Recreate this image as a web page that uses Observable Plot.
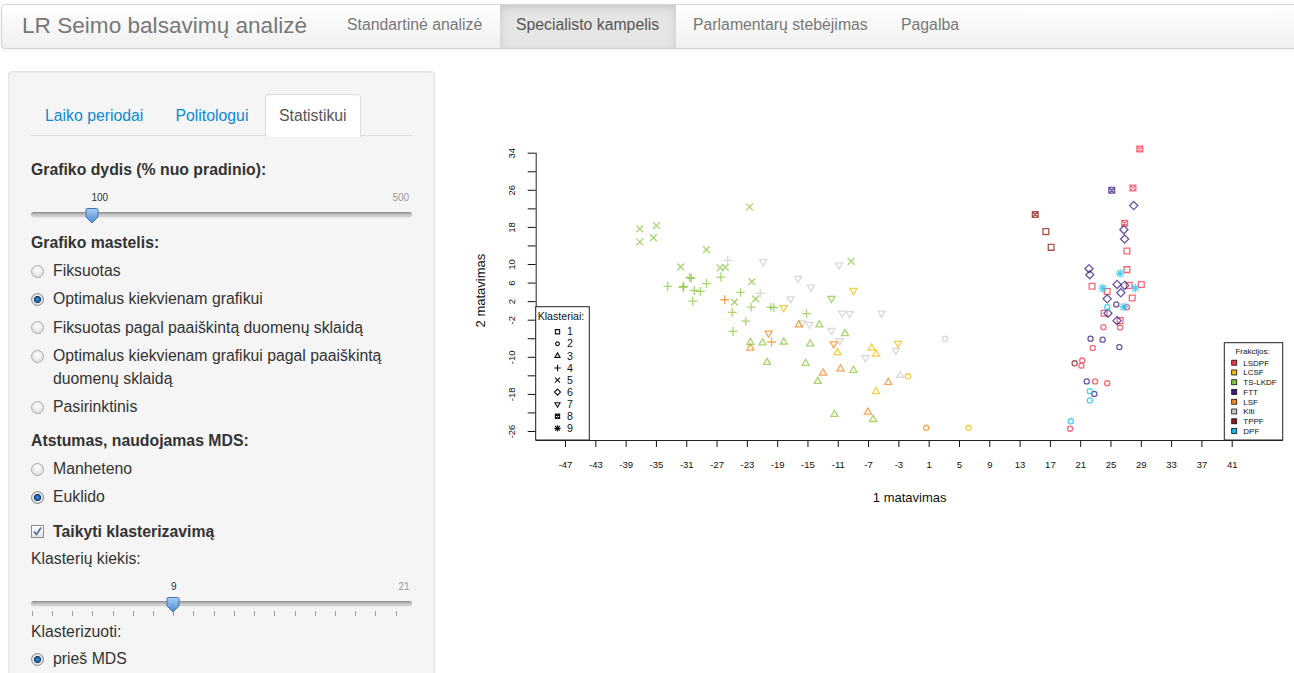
<!DOCTYPE html>
<html><head><meta charset="utf-8">
<script src="https://cdn.jsdelivr.net/npm/d3@7"></script>
<script src="https://cdn.jsdelivr.net/npm/@observablehq/plot@0.6"></script>
<style>
body{margin:0;width:1294px;height:673px;overflow:hidden;background:#fff;font-family:"Liberation Sans",Arial,sans-serif;color:#333;position:relative}
.a{position:absolute;white-space:nowrap}
.t{position:absolute;white-space:nowrap;font-size:15.8px;line-height:20px;color:#333}
.b{font-weight:bold}
.navbar{position:absolute;left:1px;top:4px;width:1300px;height:43px;background:linear-gradient(#ffffff,#f0f0f0);border:1px solid #d4d4d4;border-radius:4px;box-shadow:0 1px 4px rgba(0,0,0,.07)}
.nav{position:absolute;top:15px;font-size:15.8px;line-height:20px;color:#777;white-space:nowrap}
.well{position:absolute;left:8px;top:71px;width:425px;height:640px;background:#f5f5f5;border:1px solid #e3e3e3;border-radius:4px;box-shadow:inset 0 1px 1px rgba(0,0,0,.05)}
.rd{position:absolute;left:31px;width:11px;height:11px;border:1px solid #a8a8a8;border-radius:50%;background:radial-gradient(circle at 50% 35%,#ffffff,#d6d6d6)}
.rd.on{border-color:#8a8a8a;background:radial-gradient(circle,#3b95de 0,#1b62ad 2.3px,#0f3560 3.2px,#ececec 3.9px,#d0d0d0 6px)}
.trk{position:absolute;left:31px;width:381px;height:5px;border-radius:3px;background:linear-gradient(#8a8a8a,#c6c6c6 55%,#d6d6d6);box-shadow:0 1px 0 #e8e8e8}
.tick{position:absolute;width:1px;height:5px;background:#a0a0a0}
#chart{position:absolute;left:440px;top:120px}
</style></head>
<body>
<div class="navbar"></div>
<div class="a" style="left:500px;top:5px;width:176px;height:43px;background:#e5e5e5;box-shadow:inset 0 3px 8px rgba(0,0,0,.125)"></div>
<div class="nav" style="left:22px;top:13px;font-size:22.6px;line-height:26px;color:#777">LR Seimo balsavimų analizė</div>
<div class="nav" style="left:347px">Standartinė analizė</div>
<div class="nav" style="left:516px;color:#555">Specialisto kampelis</div>
<div class="nav" style="left:693px">Parlamentarų stebėjimas</div>
<div class="nav" style="left:901px">Pagalba</div>

<div class="well"></div>
<div class="a" style="left:31px;top:135px;width:381px;height:1px;background:#dddddd"></div>
<div class="a" style="left:265px;top:94px;width:94px;height:42px;background:#fff;border:1px solid #ddd;border-bottom:none;border-radius:4px 4px 0 0"></div>
<div class="t" style="left:45px;top:106px;color:#0a8ad2">Laiko periodai</div>
<div class="t" style="left:175.5px;top:106px;color:#0a8ad2">Politologui</div>
<div class="t" style="left:279px;top:106px;color:#555">Statistikui</div>

<div class="t b" style="left:31px;top:160px">Grafiko dydis (% nuo pradinio):</div>
<div class="a" style="left:91.5px;top:192px;font-size:10px;color:#333">100</div>
<div class="a" style="left:392.5px;top:192px;font-size:10px;color:#999">500</div>
<div class="trk" style="top:211.5px"></div>
<svg class="a" style="left:84.5px;top:208px" width="14" height="16"><defs><linearGradient id="hg" x1="0" y1="0" x2="0" y2="1"><stop offset="0" stop-color="#a9cdf3"/><stop offset="1" stop-color="#4d8ad3"/></linearGradient></defs><path d="M2 0.5H11.5Q13 0.5 13 2V9L7 15L1 9V2Q1 0.5 2 0.5Z" fill="url(#hg)" stroke="#3f74b8"/></svg>

<div class="t b" style="left:31px;top:233px">Grafiko mastelis:</div>
<div class="rd" style="top:265px"></div><div class="t" style="left:53px;top:261px">Fiksuotas</div>
<div class="rd on" style="top:293px"></div><div class="t" style="left:53px;top:289px">Optimalus kiekvienam grafikui</div>
<div class="rd" style="top:321px"></div><div class="t" style="left:53px;top:317.5px">Fiksuotas pagal paaiškintą duomenų sklaidą</div>
<div class="rd" style="top:350px"></div><div class="t" style="left:53px;top:346px">Optimalus kiekvienam grafikui pagal paaiškintą</div>
<div class="t" style="left:53px;top:368.5px">duomenų sklaidą</div>
<div class="rd" style="top:401px"></div><div class="t" style="left:53px;top:397px">Pasirinktinis</div>

<div class="t b" style="left:31px;top:431px">Atstumas, naudojamas MDS:</div>
<div class="rd" style="top:463px"></div><div class="t" style="left:53px;top:459px">Manheteno</div>
<div class="rd on" style="top:491px"></div><div class="t" style="left:53px;top:487px">Euklido</div>

<svg class="a" style="left:31px;top:525px" width="14" height="14"><defs><linearGradient id="cg" x1="0" y1="0" x2="0" y2="1"><stop offset="0" stop-color="#ffffff"/><stop offset="1" stop-color="#e2e2e2"/></linearGradient></defs><rect x="0.5" y="0.5" width="12" height="12" fill="url(#cg)" stroke="#8e8e8e"/><path d="M3 6.5L5.5 9.5L10 2.5" fill="none" stroke="#4a6a9a" stroke-width="1.6"/></svg>
<div class="t b" style="left:53px;top:521.5px">Taikyti klasterizavimą</div>
<div class="t" style="left:31px;top:549px">Klasterių kiekis:</div>
<div class="a" style="left:171px;top:581px;font-size:10px;color:#333">9</div>
<div class="a" style="left:398.5px;top:581px;font-size:10px;color:#999">21</div>
<div class="trk" style="top:600.5px"></div>
<div id="ticks"></div>
<svg class="a" style="left:165.5px;top:597px" width="14" height="16"><defs><linearGradient id="hg2" x1="0" y1="0" x2="0" y2="1"><stop offset="0" stop-color="#a9cdf3"/><stop offset="1" stop-color="#4d8ad3"/></linearGradient></defs><path d="M2 0.5H11.5Q13 0.5 13 2V9L7 15L1 9V2Q1 0.5 2 0.5Z" fill="url(#hg2)" stroke="#3f74b8"/></svg>
<div class="t" style="left:31px;top:621.5px">Klasterizuoti:</div>
<div class="rd on" style="top:653px"></div><div class="t" style="left:53px;top:649px">prieš MDS</div>

<div id="chart"></div>
<script>
// ---------- data ----------
const factions = ["LSDPF","LCSF","TS-LKDF","FTT","LSF","Kiti","TPPF","DPF"];
const factionColors = ["#F5354B","#F5BE0C","#8CC63F","#3A1C80","#F7871E","#CCCCCC","#8E1B1B","#14BDEF"];
const clusters = [1,2,3,4,5,6,7,8,9];
const xTicks = [-47,-43,-39,-35,-31,-27,-23,-19,-15,-11,-7,-3,1,5,9,13,17,21,25,29,33,37,41];
const yTicks = [-26,-22,-18,-14,-10,-6,-2,2,6,10,14,18,22,26,30,34];
const yTickLabels = [34,26,18,10,6,2,-2,-10,-18,-26];
const xLim = [-50.87, 47.73];
const yLim = [-27.94, 34];

// points: [dimension 1, dimension 2, cluster]
const ptsTSLKDF = [
  [-37.2,17.7,5],[-35.0,18.4,5],[-37.2,14.9,5],[-35.4,15.8,5],[-28.4,13.2,5],[-31.8,9.5,5],
  [-26.6,9.3,5],[-25.9,9.4,5],[-22.7,22.4,5],[-24.7,1.9,5],[-22.4,6.3,5],[-21.9,2.6,5],[-9.3,10.7,5],
  [-33.5,5.3,4],[-31.5,5.1,4],[-31.4,5.3,4],[-30.6,7.2,4],[-30.4,7.0,4],[-30.0,4.4,4],[-29.2,4.2,4],
  [-28.4,5.9,4],[-30.2,2.1,4],[-26.5,7.3,4],[-23.9,4.0,4],[-25.0,-0.3,4],[-23.2,-2.2,4],[-22.5,0.8,4],
  [-19.9,0.8,4],[-19.5,0.7,4],[-15.2,-0.6,4],[-24.9,-4.4,4],
  [-11.9,2.7,7],
  [-13.5,-3.0,3],[-10.1,-4.9,3],[-22.6,-6.8,3],[-21.0,-6.9,3],[-18.2,-6.7,3],[-14.7,-7.1,3],
  [-20.4,-11.1,3],[-15.3,-11.3,3],[-13.7,-15.2,3],[-9.0,-12.8,3],[-11.5,-22.3,3],[-6.4,-23.4,3]
];
const ptsKiti = [
  [-25.6,10.9,4],[-21.3,3.8,4],
  [-20.9,10.6,7],[-16.3,7.0,7],[-14.6,5.1,7],[-17.3,2.6,7],[-10.9,9.9,7],[-10.5,-0.5,7],[-9.5,-0.6,7],
  [-5.3,-0.5,7],[-15.8,-2.6,7],[-14.8,-2.9,7],[-11.9,-4.2,7],[-10.8,-6.4,7],[-7.4,-10.1,7],[-3.4,-8.5,7],
  [3.1,-6.0,2],[-2.8,-13.9,3]
];
const ptsLSF = [
  [-26.0,2.4,4],[-19.8,-6.7,4],
  [-16.2,-3.0,3],[-22.6,-8.0,3],[-13.0,-13.4,3],[-10.7,-12.5,3],[-4.4,-15.4,3],[-7.1,-21.8,3],
  [-20.2,-4.8,7],[-11.6,-7.1,7],
  [0.6,-25.2,2]
];
const ptsLCSF = [
  [-18.2,0.7,7],[-9.0,4.4,7],[-3.1,-7.0,7],
  [-11.1,-9.0,3],[-6.6,-8.0,3],[-6.0,-9.3,3],[-6.0,-17.4,3],
  [-1.8,-14.1,2],[6.2,-25.2,2]
];
const ptsLSDPF = [
  [28.8,34.9,8],[27.9,26.5,8],[26.8,18.9,8],
  [27.1,12.9,1],[27.1,8.9,1],[22.5,5.3,1],[24.5,4.2,1],[27.4,5.5,1],[29.0,5.7,1],[27.8,2.8,1],
  [24.1,-0.5,1],[26.2,-2.1,1],
  [24.0,-3.5,2],[26.2,-3.6,2],[27.1,0.8,2],[22.6,-8.0,2],[21.2,-10.7,2],[21.1,-11.8,2],
  [22.9,-15.2,2],[24.5,-15.6,2],[19.6,-25.4,2]
];
const ptsFTT = [
  [25.1,26.0,8],
  [28.0,22.7,6],[26.7,17.5,6],[26.8,15.5,6],[22.1,9.1,6],[22.2,7.8,6],[25.8,5.7,6],[26.8,5.5,6],
  [26.3,3.9,6],[24.5,2.6,6],[24.6,-0.5,6],[25.8,-2.1,6],
  [25.7,1.4,2],[22.3,-6.0,2],[23.9,-6.2,2],[26.1,-7.8,2],[21.8,-15.2,2],[22.8,-17.9,2]
];
const ptsTPPF = [
  [15.0,20.8,8],[16.4,17.1,1],[17.1,13.7,1],[20.2,-11.3,2]
];
const ptsDPF = [
  [26.2,8.1,9],[23.9,4.9,9],[28.2,4.9,9],[26.7,0.9,9],
  [24.5,0.8,2],[22.2,-17.3,2],[22.2,-19.3,2],[19.7,-23.8,2]
];

const groups = [["TS-LKDF",ptsTSLKDF],["Kiti",ptsKiti],["LSF",ptsLSF],["LCSF",ptsLCSF],
                ["LSDPF",ptsLSDPF],["FTT",ptsFTT],["TPPF",ptsTPPF],["DPF",ptsDPF]];
const data = groups.flatMap(([f, pts]) => pts.map(([x, y, c]) => ({x, y, cluster: c, faction: f})));

// ---------- R-like plotting symbols ----------
const mk = f => ({draw(c, size){ f(c, Math.sqrt(size / Math.PI)); }});
const symbols = [
  mk((c,r)=>{const h=r*0.85; c.rect(-h,-h,2*h,2*h);}),                                   // 1 square
  mk((c,r)=>{const h=r*0.75; c.moveTo(h,0); c.arc(0,0,h,0,2*Math.PI); c.closePath();}),   // 2 circle
  mk((c,r)=>{const R=r*1.2; c.moveTo(0,-R); c.lineTo(R*0.866,R*0.5); c.lineTo(-R*0.866,R*0.5); c.closePath();}), // 3 triangle
  mk((c,r)=>{const h=r*1.3; c.moveTo(-h,0); c.lineTo(h,0); c.moveTo(0,-h); c.lineTo(0,h);}), // 4 plus
  mk((c,r)=>{const h=r*1.0; c.moveTo(-h,-h); c.lineTo(h,h); c.moveTo(-h,h); c.lineTo(h,-h);}), // 5 times
  mk((c,r)=>{const h=r*1.2; c.moveTo(0,-h); c.lineTo(h,0); c.lineTo(0,h); c.lineTo(-h,0); c.closePath();}), // 6 diamond
  mk((c,r)=>{const R=r*1.2; c.moveTo(0,R); c.lineTo(R*0.866,-R*0.5); c.lineTo(-R*0.866,-R*0.5); c.closePath();}), // 7 triangle down
  mk((c,r)=>{const h=r*0.85; c.rect(-h,-h,2*h,2*h); c.moveTo(-h,-h); c.lineTo(h,h); c.moveTo(-h,h); c.lineTo(h,-h);}), // 8 square x
  mk((c,r)=>{const h=r*1.25, d=r*0.95; c.moveTo(-h,0); c.lineTo(h,0); c.moveTo(0,-h); c.lineTo(0,h);
             c.moveTo(-d,-d); c.lineTo(d,d); c.moveTo(-d,d); c.lineTo(d,-d);})                 // 9 asterisk
];

// ---------- in-plot legends ----------
function legends() {
  const g = d3.create("svg:g").attr("font-family","Liberation Sans, Arial, sans-serif").attr("text-anchor","start");
  // Klasteriai
  g.append("rect").attr("x",95.7).attr("y",186.7).attr("width",53.6).attr("height",133.3)
    .attr("fill","white").attr("stroke","#222").attr("stroke-width",1);
  g.append("text").attr("x",97.7).attr("y",196).attr("dy","0.35em").attr("font-size",10.6)
    .attr("text-anchor","start").attr("fill","#111").text("Klasteriai:");
  clusters.forEach((c, i) => {
    const y = 211.7 + i * 12.08;
    g.append("path").attr("transform",`translate(117.5,${y})`)
      .attr("d", d3.symbol(symbols[i], 2.5*2.5*Math.PI)())
      .attr("fill","none").attr("stroke","#111").attr("stroke-width",1.1);
    g.append("text").attr("x",127).attr("y",y).attr("dy","0.35em").attr("font-size",10.6)
      .attr("text-anchor","start").attr("fill","#111").text(String(c));
  });
  // Frakcijos
  g.append("rect").attr("x",784.3).attr("y",222.7).attr("width",58.4).attr("height",97.3)
    .attr("fill","white").attr("stroke","#222").attr("stroke-width",1);
  g.append("text").attr("x",812.5).attr("y",231.5).attr("dy","0.35em").attr("font-size",8)
    .attr("text-anchor","middle").attr("fill","#111").text("Frakcijos:");
  factions.forEach((f, i) => {
    const y = 242.7 + i * 9.76;
    g.append("rect").attr("x",791.7).attr("y",y-2.5).attr("width",5).attr("height",5)
      .attr("fill",factionColors[i]).attr("stroke","#111").attr("stroke-width",0.8);
    g.append("text").attr("x",803.3).attr("y",y).attr("dy","0.35em").attr("font-size",8)
      .attr("text-anchor","start").attr("fill","#111").text(f);
  });
  return g.node();
}

const chart = Plot.plot({
  width: 854, height: 400,
  marginLeft: 95.7, marginRight: 11.3, marginTop: 32.7, marginBottom: 80,
  style: {fontFamily: "Liberation Sans, Arial, sans-serif", fontSize: "9.5px", color: "#111", background: "transparent", overflow: "visible"},
  x: {domain: xLim},
  y: {domain: yLim},
  color: {domain: factions, range: factionColors},
  symbol: {domain: clusters, range: symbols},
  marks: [
    Plot.axisX({ticks: xTicks, tickSize: 7, tickPadding: 14, tickFormat: d => String(d), label: null, fontSize: 9.5}),
    Plot.axisY({ticks: yTicks, tickSize: 8, tickFormat: () => "", label: null}),
    Plot.text(yTickLabels, {y: d => d, text: d => String(d), frameAnchor: "left", dx: -24, rotate: -90,
      textAnchor: "middle", lineAnchor: "middle", fontSize: 9.5, fill: "#111"}),
    Plot.ruleX([xLim[0]], {stroke: "#222"}),
    Plot.ruleY([yLim[0]], {stroke: "#222"}),
    Plot.dot(data, {x: "x", y: "y", symbol: "cluster", stroke: "faction", r: 3.4, strokeWidth: 1.3, strokeOpacity: 0.75}),
    Plot.text(["1 matavimas"], {frameAnchor: "bottom", dy: 57, textAnchor: "middle", lineAnchor: "middle", fontSize: 13, fill: "#111"}),
    Plot.text(["2 matavimas"], {frameAnchor: "left", dx: -55, dy: -6.3, rotate: -90, textAnchor: "middle", lineAnchor: "middle", fontSize: 13, fill: "#111"}),
    legends
  ]
});
document.getElementById("chart").appendChild(chart);

// slider ticks
const tk = document.getElementById("ticks");
for (let i = 0; i < 19; i++) {
  const d = document.createElement("div");
  d.className = "tick";
  d.style.left = (31.7 + i * 20.22) + "px";
  d.style.top = "610.5px";
  tk.appendChild(d);
}
</script>
</body></html>
